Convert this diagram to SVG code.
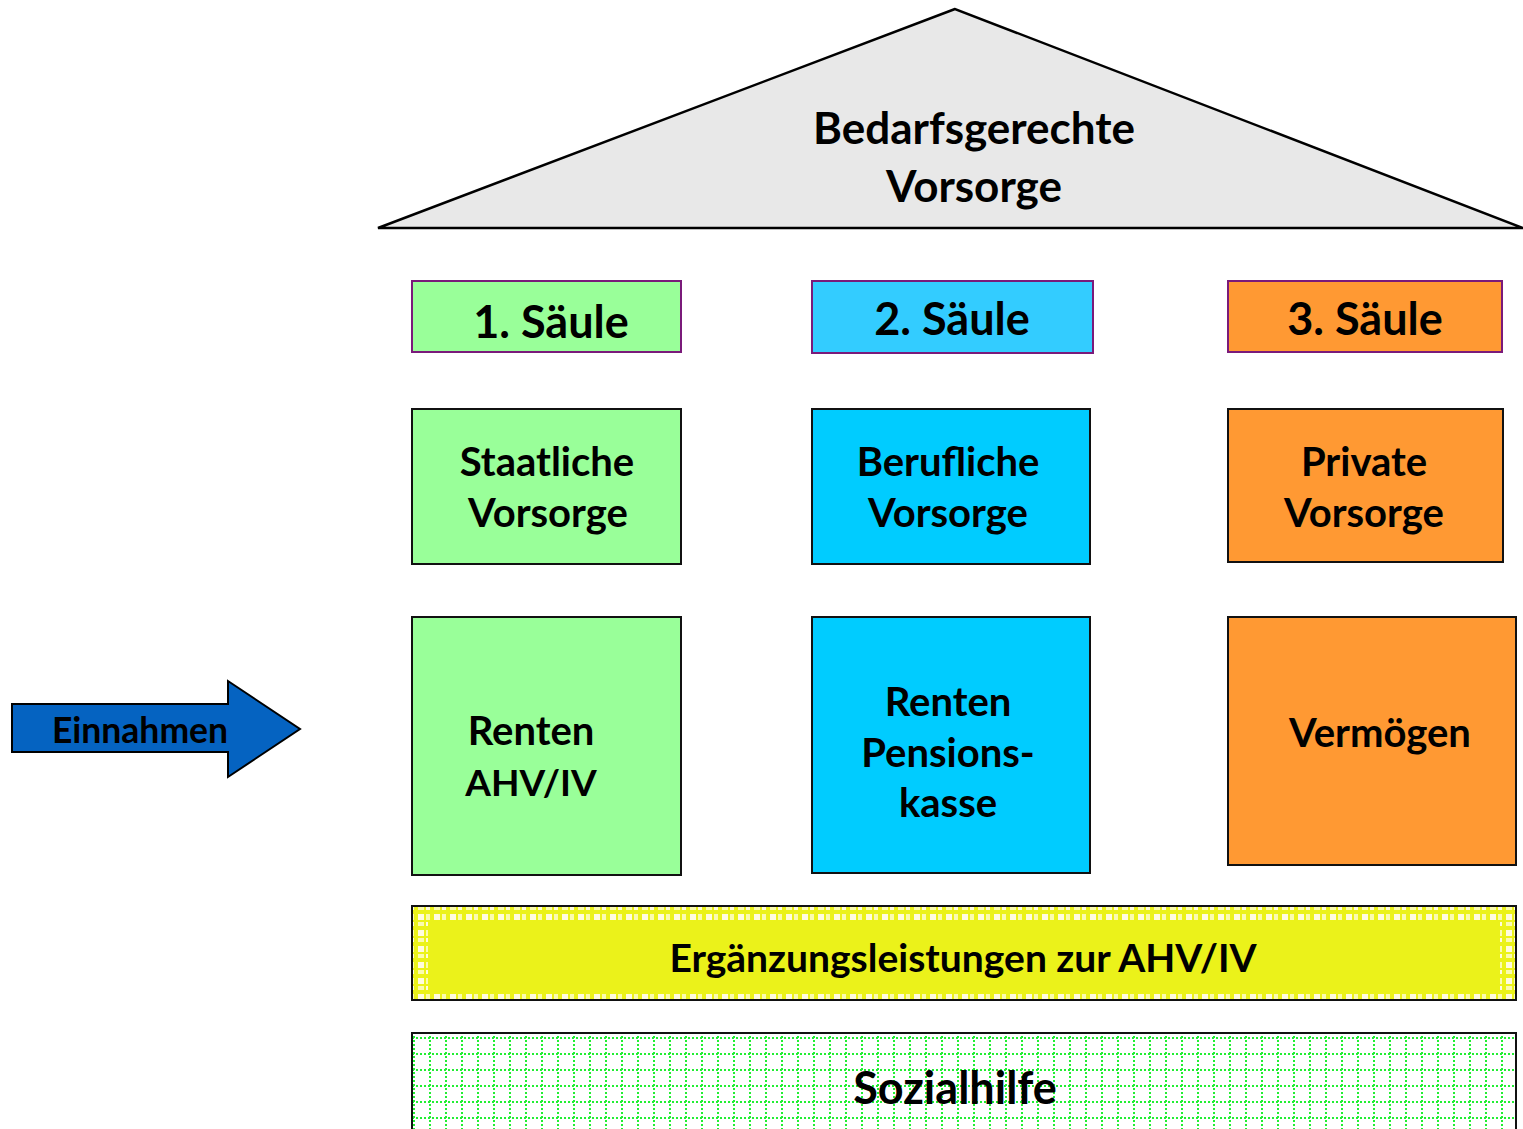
<svg xmlns="http://www.w3.org/2000/svg" width="1523" height="1129" viewBox="0 0 1523 1129">
<style>
text{font-family:Lato,"Noto Sans",sans-serif;font-weight:700;fill:#000;text-anchor:middle}
.hdr{stroke:#7a1a7a;stroke-width:2}
.box{stroke:#111;stroke-width:2}
.t44{font-size:44px}
.t45{font-size:45px}
.t40{font-size:40px}
.t39{font-size:39px}
.t37{font-size:37px}
.t35{font-size:35.5px}
</style>
<defs>
<pattern id="pY" width="16" height="16" patternUnits="userSpaceOnUse">
<rect width="16" height="16" fill="#ebf21a"/>
<rect x="2" y="2" width="6" height="6" fill="#fffbe0"/>
<rect x="10" y="2" width="4" height="6" fill="#fbfbb0"/>
<rect x="2" y="10" width="6" height="4" fill="#fbfbb0"/>
<rect x="10" y="10" width="4" height="4" fill="#fffbe0"/>
</pattern>
<pattern id="pG" width="16" height="16" patternUnits="userSpaceOnUse">
<rect width="16" height="16" fill="#fff"/>
<path d="M0 14H16M14 0V16" stroke="#22ee33" stroke-width="2" stroke-dasharray="2 2"/>
</pattern>
</defs>
<g id="roof">
<polygon points="955,9 378,228 1523,228" fill="#e8e8e8" stroke="#000" stroke-width="2.5"/>
<text class="t44" x="974" y="144">Bedarfsgerechte</text>
<text class="t44" x="974" y="202">Vorsorge</text>
</g>
<g id="saeule1">
<rect class="hdr" x="412" y="281" width="269" height="71" fill="#99ff99"/>
<text class="t45" x="551" y="338">1. Säule</text>
</g>
<g id="saeule2">
<rect class="hdr" x="812" y="281" width="281" height="72" fill="#33ccff"/>
<text class="t45" x="952" y="335">2. Säule</text>
</g>
<g id="saeule3">
<rect class="hdr" x="1228" y="281" width="274" height="71" fill="#ff9933"/>
<text class="t45" x="1365" y="335">3. Säule</text>
</g>
<g id="staatlich">
<rect class="box" x="412" y="409" width="269" height="155" fill="#99ff99"/>
<text class="t40" x="547" y="476">Staatliche</text>
<text class="t40" x="548" y="527">Vorsorge</text>
</g>
<g id="beruflich">
<rect class="box" x="812" y="409" width="278" height="155" fill="#00ccff"/>
<text class="t40" x="948" y="476">Berufliche</text>
<text class="t40" x="948" y="527">Vorsorge</text>
</g>
<g id="privat">
<rect class="box" x="1228" y="409" width="275" height="153" fill="#ff9933"/>
<text class="t40" x="1364" y="476">Private</text>
<text class="t40" x="1364" y="527">Vorsorge</text>
</g>
<g id="ahv">
<rect class="box" x="412" y="617" width="269" height="258" fill="#99ff99"/>
<text class="t40" x="531" y="745">Renten</text>
<text class="t37" x="531" y="796">AHV/IV</text>
</g>
<g id="pk">
<rect class="box" x="812" y="617" width="278" height="256" fill="#00ccff"/>
<text class="t40" x="948" y="716">Renten</text>
<text class="t40" x="948" y="767">Pensions-</text>
<text class="t40" x="948" y="817">kasse</text>
</g>
<g id="vermoegen">
<rect class="box" x="1228" y="617" width="288" height="248" fill="#ff9933"/>
<text class="t40" x="1380" y="747">Vermögen</text>
</g>
<g id="el">
<rect class="box" x="412" y="906" width="1104" height="94" fill="url(#pY)"/>
<rect x="428" y="921" width="1072" height="71" fill="#ebf21a"/>
<text class="t39" x="963" y="972">Ergänzungsleistungen zur AHV/IV</text>
</g>
<g id="sozialhilfe">
<rect class="box" x="412" y="1033" width="1104" height="110" fill="url(#pG)"/>
<text class="t45" x="955" y="1104">Sozialhilfe</text>
</g>
<g id="einnahmen">
<polygon points="12,704 228,704 228,681 300,729 228,777 228,752 12,752" fill="#0563c1" stroke="#000" stroke-width="2"/>
<text class="t35" x="140" y="743">Einnahmen</text>
</g>
<g id="connectors"></g>
</svg>
